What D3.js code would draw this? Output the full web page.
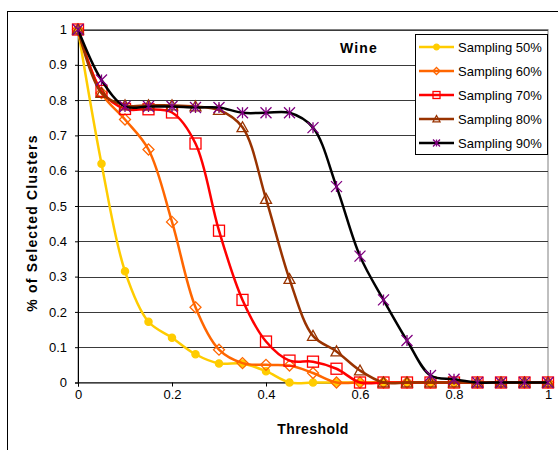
<!DOCTYPE html>
<html>
<head>
<meta charset="utf-8">
<script src="https://cdn.jsdelivr.net/npm/d3@7"></script>
<style>
  body { margin: 0; background: #fff; }
  text { font-family: "Liberation Sans", Arial, sans-serif; }
</style>
</head>
<body>
<div id="chart"></div>
<script>
// thresholds 0 .. 1 step 0.05
var thresholds = [0, 0.05, 0.1, 0.15, 0.2, 0.25, 0.3, 0.35, 0.4, 0.45, 0.5,
                  0.55, 0.6, 0.65, 0.7, 0.75, 0.8, 0.85, 0.9, 0.95, 1];

var s50 = [1, 0.62, 0.315, 0.172, 0.127, 0.08, 0.054, 0.054, 0.032, 0, 0,
           0, 0, 0, 0, 0, 0, 0, 0, 0, 0];
var s60 = [1, 0.82, 0.745, 0.66, 0.455, 0.213, 0.093, 0.055, 0.05, 0.048, 0.027,
           0, 0, 0, 0, 0, 0, 0, 0, 0, 0];
var s70 = [1, 0.826, 0.775, 0.774, 0.765, 0.677, 0.43, 0.234, 0.116, 0.062, 0.059,
           0.039, 0, 0, 0, 0, 0, 0, 0, 0, 0];
var s80 = [1, 0.82, 0.785, 0.785, 0.785, 0.782, 0.772, 0.723, 0.52, 0.293, 0.132,
           0.088, 0.034, 0, 0, 0, 0, 0, 0, 0, 0];
var s90 = [1, 0.857, 0.782, 0.782, 0.782, 0.779, 0.779, 0.764, 0.764, 0.764, 0.722,
           0.555, 0.358, 0.234, 0.119, 0.02, 0.009, 0, 0, 0, 0];

var seriesNames = ["Sampling 50%", "Sampling 60%", "Sampling 70%", "Sampling 80%", "Sampling 90%"];
var yTicks = [0, 0.1, 0.2, 0.3, 0.4, 0.5, 0.6, 0.7, 0.8, 0.9, 1];
var xTicks = [0, 0.2, 0.4, 0.6, 0.8, 1];

var styles = [
  {line: "#FFCC00", mark: "circle",   stroke: "#FFCC00", fill: "#FFCC00"},
  {line: "#FF6600", mark: "diamond",  stroke: "#FF6600", fill: "none"},
  {line: "#FF0000", mark: "square",   stroke: "#FF0000", fill: "none"},
  {line: "#993300", mark: "triangle", stroke: "#993300", fill: "none"},
  {line: "#000000", mark: "star",     stroke: "#800080", fill: "none"}
];
var allSeries = [s50, s60, s70, s80, s90];

var width = 558, height = 450;
var pLeft = 78, pRight = 548, pTop = 29.5, pBottom = 382.5;

var svg = d3.select("#chart").append("svg")
  .attr("width", width).attr("height", height);

// outer chart border (runs off the picture)
svg.append("rect")
  .attr("x", 7.5).attr("y", 11.5)
  .attr("width", 600).attr("height", 500)
  .attr("fill", "#fff").attr("stroke", "#000").attr("stroke-width", 1);

var x = d3.scaleLinear().domain([0, 1]).range([pLeft, pRight]);
var y = d3.scaleLinear().domain([0, 1]).range([pBottom, pTop]);

// plot area border
svg.append("rect")
  .attr("x", pLeft).attr("y", pTop)
  .attr("width", pRight - pLeft).attr("height", pBottom - pTop)
  .attr("fill", "#fff").attr("stroke", "#808080");

// gridlines
svg.append("g").selectAll("line")
  .data(yTicks.slice(1))
  .enter().append("line")
  .attr("x1", pLeft).attr("x2", pRight)
  .attr("y1", function(d) { return Math.round(y(d)) + 0.5; })
  .attr("y2", function(d) { return Math.round(y(d)) + 0.5; })
  .attr("stroke", "#3a3a3a");

// axes
var fmt = function(d) { return d === 0 || d === 1 ? String(d) : d3.format(".1f")(d); };
var yAxis = d3.axisLeft(y).tickValues(yTicks).tickSize(3).tickPadding(8).tickFormat(fmt);
var gy = svg.append("g").attr("transform", "translate(" + pLeft + ",0)").call(yAxis);

var xAxis = d3.axisBottom(x).tickValues(xTicks).tickSize(4).tickPadding(3).tickFormat(fmt);
var gx = svg.append("g").attr("transform", "translate(0," + pBottom + ")").call(xAxis);

[gy, gx].forEach(function(g) {
  g.select(".domain").attr("stroke", "#000");
  g.selectAll(".tick line").attr("stroke", "#000");
  g.selectAll("text").attr("font-size", 13).attr("fill", "#000")
    .style("font-family", '"Liberation Sans", Arial, sans-serif');
});

// axis titles
svg.append("text")
  .attr("x", 313).attr("y", 434)
  .attr("text-anchor", "middle")
  .attr("font-size", 14).attr("font-weight", "bold")
  .attr("letter-spacing", 0.4)
  .text("Threshold");

svg.append("text")
  .attr("transform", "translate(37,223) rotate(-90)")
  .attr("text-anchor", "middle")
  .attr("font-size", 14).attr("font-weight", "bold")
  .attr("letter-spacing", 1.2)
  .text("% of Selected Clusters");

svg.append("text")
  .attr("x", 359).attr("y", 53)
  .attr("text-anchor", "middle")
  .attr("font-size", 14).attr("font-weight", "bold")
  .attr("letter-spacing", 1.2)
  .text("Wine");

function drawMarker(g, type, st, size) {
  var m;
  if (type === "circle") {
    m = g.append("circle").attr("r", size * 0.8);
  } else if (type === "diamond") {
    m = g.append("path").attr("d", "M0," + (-size) + "L" + size + ",0L0," + size + "L" + (-size) + ",0Z");
  } else if (type === "square") {
    m = g.append("rect").attr("x", -size).attr("y", -size)
      .attr("width", size * 2).attr("height", size * 2);
  } else if (type === "triangle") {
    m = g.append("path").attr("d", "M0," + (-size) + "L" + size + "," + (size * 0.8) + "L" + (-size) + "," + (size * 0.8) + "Z");
  } else {
    var s = size;
    m = g.append("path").attr("d",
      "M" + (-s) + "," + (-s) + "L" + s + "," + s +
      "M" + (-s) + "," + s + "L" + s + "," + (-s) +
      "M0," + (-s) + "L0," + s);
  }
  m.attr("fill", st.fill).attr("stroke", st.stroke).attr("stroke-width", 1.3);
}

var line = d3.line()
  .x(function(d) { return x(d[0]); })
  .y(function(d) { return y(d[1]); })
  .curve(d3.curveCatmullRom.alpha(0.5));

allSeries.forEach(function(vals, k) {
  var st = styles[k];
  var pts = thresholds.map(function(t, i) { return [t, vals[i]]; });
  var g = svg.append("g");
  g.append("path").datum(pts)
    .attr("d", line)
    .attr("fill", "none").attr("stroke", st.line).attr("stroke-width", 2.5);
  pts.forEach(function(p) {
    var mg = g.append("g").attr("transform", "translate(" + x(p[0]) + "," + y(p[1]) + ")");
    drawMarker(mg, st.mark, st, k === 0 ? 4.5 : 5.5);
  });
});

// legend
var lg = svg.append("g");
lg.append("rect")
  .attr("x", 415.5).attr("y", 34.5).attr("width", 132).attr("height", 120)
  .attr("fill", "#fff").attr("stroke", "#000");
seriesNames.forEach(function(name, k) {
  var st = styles[k];
  var cy = 47 + k * 24;
  lg.append("line").attr("x1", 419).attr("x2", 454).attr("y1", cy).attr("y2", cy)
    .attr("stroke", st.line).attr("stroke-width", 2.5);
  var mg = lg.append("g").attr("transform", "translate(436.5," + cy + ")");
  drawMarker(mg, st.mark, st, 3.5);
  lg.append("text").attr("x", 458).attr("y", cy + 4.5)
    .attr("font-size", 13).attr("fill", "#000").text(name);
});
</script>
</body>
</html>
